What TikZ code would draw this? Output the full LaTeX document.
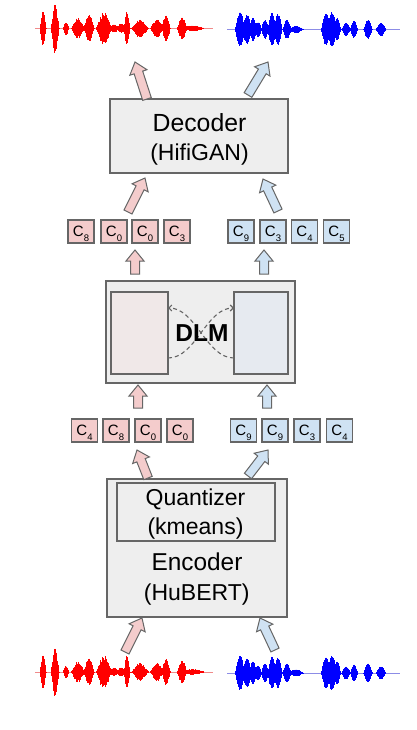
\documentclass[tikz,border=0pt]{standalone}
\usepackage{fontspec}
\setmainfont{Liberation Sans}
\usetikzlibrary{arrows.meta}
\definecolor{pinkf}{HTML}{F4CCCC}
\definecolor{bluef}{HTML}{CFE2F3}
\definecolor{boxf}{HTML}{EEEEEE}
\definecolor{edge}{HTML}{666666}
\definecolor{inpink}{HTML}{F0E8E8}
\definecolor{inblue}{HTML}{E6EAF0}
\definecolor{wred}{HTML}{FF0000}
\definecolor{wblue}{HTML}{0000FF}
\definecolor{lred}{HTML}{F08A8A}
\definecolor{lblue}{HTML}{8C8CE6}
\tikzset{
 boxst/.style={draw=edge, fill=boxf, line width=1.1pt, rectangle, inner sep=0pt},
 lbl/.style={font=\fontsize{23}{28}\selectfont, inner sep=0pt, anchor=base},
 biglbl/.style={lbl, font=\fontsize{24.8}{28}\selectfont},
 tok/.style={draw=edge, line width=1.1pt, rectangle, inner sep=0pt, minimum width=26pt, minimum height=23pt, text height=10.5pt, text depth=0pt, font=\fontsize{15}{15}\selectfont},
 ptok/.style={tok, fill=pinkf},
 btok/.style={tok, fill=bluef},
 fatline/.style={draw=edge, line width=1pt, line join=miter},
 dashcurve/.style={draw=edge, line width=1.1pt, dash pattern=on 4pt off 3pt, -{Straight Barb[length=3pt,width=6pt]}},
 wavestroke/.style={line width=0.9pt},
}
\newcommand\tk[1]{C\raisebox{-4.5pt}{\fontsize{9.5}{9.5}\selectfont #1}}
\newcommand\fatarrow[3]{% #1 fill, #2 base, #3 tip
  \path (#2) coordinate (faS) (#3) coordinate (faE);
  \pgfpointdiff{\pgfpointanchor{faS}{center}}{\pgfpointanchor{faE}{center}}%
  \pgfgetlastxy{\fadx}{\fady}%
  \pgfmathsetmacro\faang{atan2(\fady,\fadx)}%
  \pgfmathsetmacro\falen{veclen(\fadx,\fady)}%
  \begin{scope}[shift={(faS)}, rotate=\faang, x=1pt, y=1pt]
    \draw[fatline, fill=#1] (0,-4.5) -- (\falen-11,-4.5) -- (\falen-11,-9) -- (\falen,0) -- (\falen-11,9) -- (\falen-11,4.5) -- (0,4.5) -- cycle;
  \end{scope}}
\newcommand\wave[5]{% colour, top yc, bottom yc, noise min, bursts
  \foreach \cc/\ww/\aa in {#5} {
    \foreach \i in {-24,...,24} {
      \pgfmathsetmacro\wx{\cc+\i*\ww/20}
      \pgfmathsetmacro\ws{max(0,1-\i*\i/576)}
      \pgfmathsetmacro\wq{\aa*\ws*sqrt(\ws)}
      \pgfmathsetmacro\wu{\wq*(#4+(1-#4)*rnd)+0.5}
      \pgfmathsetmacro\wd{\wq*(#4+(1-#4)*rnd)+0.5}
      \draw[#1, wavestroke] (\wx,#2-\wu) -- (\wx,#2+\wd);
      \draw[#1, wavestroke] (\wx,#3-\wu) -- (\wx,#3+\wd);
    }
  }}
\begin{document}
\begin{tikzpicture}[x=1pt,y=-1pt]
\useasboundingbox (0,0) rectangle (416,730);
\pgfmathsetseed{12}
% waveforms
\draw[lred, line width=0.9pt] (35,28.5) -- (213,28.5);
\draw[lred, line width=0.9pt] (35,672) -- (213,672);
\draw[lblue, line width=0.9pt] (227,29.5) -- (400,29.5);
\draw[lblue, line width=0.9pt] (227,673) -- (400,673);
\wave{wred}{28.5}{672}{0.6}{43/2.5/16, 55/3.3/24, 66/2.2/6, 78/5.5/10, 89/4.3/13, 104/6.5/16, 114/4/3.5, 121/4/4, 127/2.5/16, 140/7/8.5, 157/5.5/8.5, 166/3.5/13, 182/4/11, 193/9/2.5}
\wave{wblue}{29.5}{673}{0.8}{240/4/17, 247/4/14, 253/3/11, 258/3/7, 265/3/9, 272/3.5/16, 278/3.5/15, 287/3.5/9, 296/6/3, 326/4/15, 332/4/17, 337/3/11, 346/3.5/6, 354/3/8, 368/3.5/9, 381/4/6}
% decoder
\node[boxst, minimum width=178pt, minimum height=74pt] (dec) at (199,136) {};
\node[biglbl] (decA) at (199.5,132) {Decoder};
\node[lbl] (decB) at (199.5,160.5) {(HifiGAN)};
% top tokens
\node[ptok] (t1) at (81,231.5) {\tk{8}};
\node[ptok] (t2) at (114,231.5) {\tk{0}};
\node[ptok] (t3) at (145,231.5) {\tk{0}};
\node[ptok] (t4) at (177,231.5) {\tk{3}};
\node[btok] (t5) at (241,231.5) {\tk{9}};
\node[btok] (t6) at (273,231.5) {\tk{3}};
\node[btok] (t7) at (304.5,231.5) {\tk{4}};
\node[btok] (t8) at (336.5,231.5) {\tk{5}};
% DLM
\node[boxst, minimum width=189pt, minimum height=102pt] (dlm) at (200.5,332) {};
\node[boxst, fill=inpink, minimum width=57pt, minimum height=82pt] (inL) at (139.5,333) {};
\node[boxst, fill=inblue, minimum width=54pt, minimum height=82pt] (inR) at (261,333) {};
\coordinate (dLb) at (168,358);
\coordinate (dLt) at (168,308);
\coordinate (dRb) at (234,358);
\coordinate (dRt) at (234,308);
\draw[dashcurve] (dLb) .. controls (196,358) and (206,308) .. (dRt);
\draw[dashcurve] (dRb) .. controls (206,358) and (196,308) .. (dLt);
\node[lbl, font=\fontsize{24.5}{28}\selectfont\bfseries] (dlmT) at (202,341.5) {DLM};
% bottom tokens
\node[ptok] (b1) at (84.5,430.5) {\tk{4}};
\node[ptok] (b2) at (116,430.5) {\tk{8}};
\node[ptok] (b3) at (148,430.5) {\tk{0}};
\node[ptok] (b4) at (180,430.5) {\tk{0}};
\node[btok] (b5) at (243.5,430.5) {\tk{9}};
\node[btok] (b6) at (275,430.5) {\tk{9}};
\node[btok] (b7) at (307,430.5) {\tk{3}};
\node[btok] (b8) at (339.5,430.5) {\tk{4}};
% encoder
\node[boxst, minimum width=180pt, minimum height=138pt] (enc) at (197,548) {};
\node[boxst, minimum width=158pt, minimum height=58pt] (quant) at (196,512) {};
\node[lbl] (qA) at (195.5,505) {Quantizer};
\node[lbl] (qB) at (195.5,534) {(kmeans)};
\node[biglbl, font=\fontsize{24.4}{28}\selectfont] (eA) at (197,570.5) {Encoder};
\node[lbl] (eB) at (196.7,600) {(HuBERT)};
% arrow end points
\coordinate (a1s) at (147,99);   \coordinate (a1e) at (135,62);
\coordinate (a2s) at (248,95);   \coordinate (a2e) at (268,62);
\coordinate (a3s) at (128,212);  \coordinate (a3e) at (145,178);
\coordinate (a4s) at (278,211);  \coordinate (a4e) at (263,179);
\coordinate (a5s) at (135,274);  \coordinate (a5e) at (135,250);
\coordinate (a6s) at (264,274);  \coordinate (a6e) at (264,250);
\coordinate (a7s) at (138,408);  \coordinate (a7e) at (138,385);
\coordinate (a8s) at (267,408);  \coordinate (a8e) at (267,385);
\coordinate (a9s) at (148,478);  \coordinate (a9e) at (137,450);
\coordinate (a10s) at (248,476); \coordinate (a10e) at (268,450);
\coordinate (a11s) at (125,652); \coordinate (a11e) at (142,618);
\coordinate (a12s) at (275,650); \coordinate (a12e) at (260,618);
\fatarrow{pinkf}{a1s}{a1e}
\fatarrow{bluef}{a2s}{a2e}
\fatarrow{pinkf}{a3s}{a3e}
\fatarrow{bluef}{a4s}{a4e}
\fatarrow{pinkf}{a5s}{a5e}
\fatarrow{bluef}{a6s}{a6e}
\fatarrow{pinkf}{a7s}{a7e}
\fatarrow{bluef}{a8s}{a8e}
\fatarrow{pinkf}{a9s}{a9e}
\fatarrow{bluef}{a10s}{a10e}
\fatarrow{pinkf}{a11s}{a11e}
\fatarrow{bluef}{a12s}{a12e}
\end{tikzpicture}
\end{document}
